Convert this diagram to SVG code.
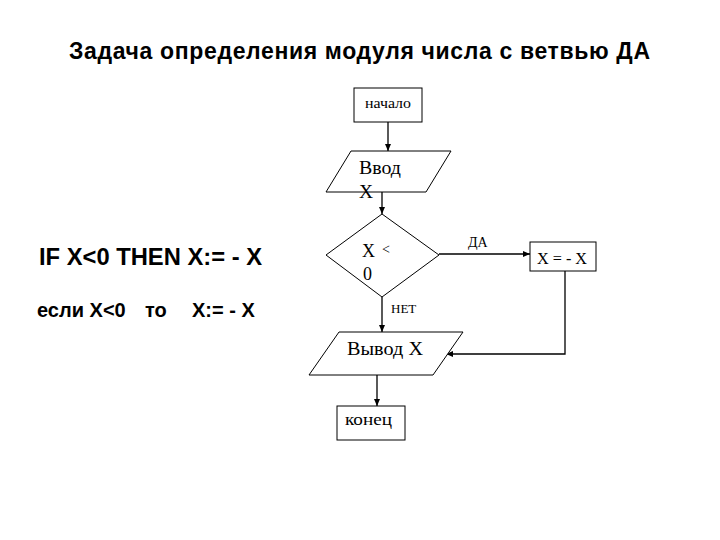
<svg xmlns="http://www.w3.org/2000/svg" width="720" height="540" viewBox="0 0 720 540">
<style>
.shape{fill:#fff;stroke:#000;stroke-width:1}
.ln{fill:none;stroke:#000;stroke-width:1.3}
.serif{font-family:"Liberation Serif","Times New Roman",serif;fill:#000}
.sans{font-family:"Liberation Sans",Arial,sans-serif;font-weight:bold;fill:#000}
</style>
<defs>
<marker id="ah" markerWidth="8" markerHeight="8" refX="7" refY="4" orient="auto" markerUnits="userSpaceOnUse">
<path d="M0,1 L7,4 L0,7 Z" fill="#000"/>
</marker>
</defs>
<rect width="720" height="540" fill="#fff"/>
<text class="sans" x="69" y="59" font-size="23" textLength="581" lengthAdjust="spacing">Задача определения модуля числа с ветвью ДА</text>
<text class="sans" x="39" y="265" font-size="24" textLength="223" lengthAdjust="spacingAndGlyphs">IF X&lt;0 THEN X:= - X</text>
<text class="sans" x="37" y="317" font-size="20">если X&lt;0</text>
<text class="sans" x="145" y="317" font-size="20">то</text>
<text class="sans" x="192" y="317" font-size="20">X:= - X</text>
<g id="connectors">
<line class="ln" x1="388" y1="122" x2="388" y2="151" marker-end="url(#ah)"/>
<line class="ln" x1="382" y1="192" x2="382" y2="214" marker-end="url(#ah)"/>
<line class="ln" x1="439" y1="254" x2="530" y2="254" stroke-width="2" marker-end="url(#ah)"/>
<line class="ln" x1="382" y1="297" x2="382" y2="332" marker-end="url(#ah)"/>
<polyline class="ln" points="565,271 565,354 446,354" marker-end="url(#ah)"/>
<line class="ln" x1="377" y1="375" x2="377" y2="406" stroke-width="2" marker-end="url(#ah)"/>
<text class="serif" x="468" y="247" font-size="14">ДА</text>
<text class="serif" x="391" y="313" font-size="13">НЕТ</text>
</g>
<g id="start">
<rect class="shape" x="354" y="88" width="68" height="34"/>
<text class="serif" x="365" y="108" font-size="15" textLength="46" lengthAdjust="spacingAndGlyphs">начало</text>
</g>
<g id="input">
<polygon class="shape" points="351,151 451,151 426,192 326,192"/>
<text class="serif" x="359" y="174" font-size="19.5" textLength="42" lengthAdjust="spacingAndGlyphs">Ввод</text>
<text class="serif" x="359" y="198" font-size="19.5">X</text>
</g>
<g id="decision">
<polygon class="shape" points="382,214 439,255 382,297 326,255"/>
<text class="serif" x="362" y="257" font-size="18">X</text>
<text class="serif" x="382" y="254" font-size="14">&lt;</text>
<text class="serif" x="363" y="280" font-size="18">0</text>
</g>
<g id="assign">
<rect class="shape" x="530" y="242" width="66" height="29"/>
<text class="serif" x="537" y="264" font-size="16" textLength="50" lengthAdjust="spacingAndGlyphs">X = - X</text>
</g>
<g id="output">
<polygon class="shape" points="339,332 463,332 433,375 309,375"/>
<text class="serif" x="347" y="355" font-size="19.5" textLength="76" lengthAdjust="spacingAndGlyphs">Вывод X</text>
</g>
<g id="end">
<rect class="shape" x="337" y="406" width="68" height="34"/>
<text class="serif" x="345" y="425" font-size="16" textLength="47" lengthAdjust="spacingAndGlyphs">конец</text>
</g>
</svg>
